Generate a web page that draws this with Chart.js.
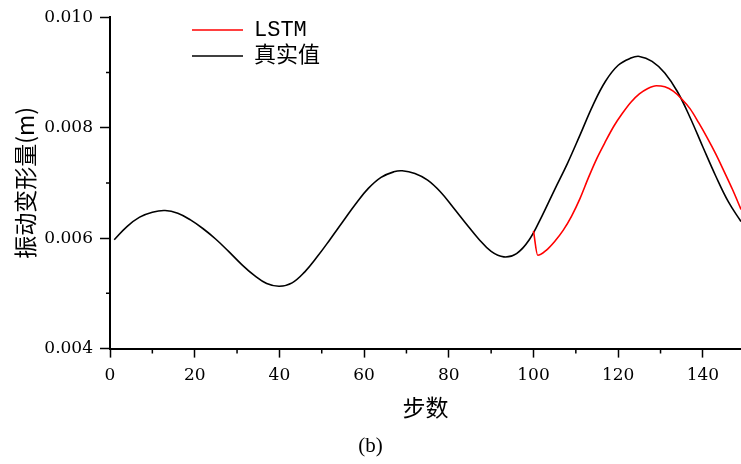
<!DOCTYPE html>
<html>
<head>
<meta charset="utf-8">
<script src="https://cdn.jsdelivr.net/npm/chart.js@4/dist/chart.umd.min.js"></script>
<style>
  html, body { margin: 0; padding: 0; background: #fff; }
  #wrap { width: 741px; height: 464px; position: relative; }
</style>
</head>
<body>
<div id="wrap"><canvas id="c" width="741" height="464"></canvas></div>
<script>
// ---- data ----
const seriesNames = ['LSTM', '真实值'];
const trueSteps = [1, 4, 7, 10, 13, 16, 19, 22, 25, 28, 31, 34, 37, 40, 43, 46, 49, 52, 55, 58, 61, 64, 67, 69, 72, 75, 78, 81, 84, 87, 90, 93, 96, 99, 102, 105, 108, 111, 114, 117, 120, 123, 125, 128, 131, 134, 137, 140, 143, 146, 149];
const trueValues = [0.00597, 0.00621, 0.00638, 0.00647, 0.00650, 0.00645, 0.00633, 0.00617, 0.00598, 0.00576, 0.00553, 0.00533, 0.00518, 0.00513, 0.00519, 0.00539, 0.00567, 0.00598, 0.00630, 0.00662, 0.00690, 0.00710, 0.00720, 0.00722, 0.00717, 0.00705, 0.00684, 0.00656, 0.00627, 0.00599, 0.00576, 0.00566, 0.00572, 0.00597, 0.00640, 0.00688, 0.00735, 0.00787, 0.00840, 0.00884, 0.00913, 0.00926, 0.00929, 0.00920, 0.00899, 0.00865, 0.00818, 0.00765, 0.00713, 0.00666, 0.00630];
const lstmSteps = [100, 101, 103, 105, 107, 109, 111, 113, 115, 117, 119, 121, 123, 125, 127, 129, 131, 133, 135, 137, 139, 141, 143, 145, 147, 149];
const lstmValues = [0.00613, 0.00569, 0.00578, 0.00594, 0.00614, 0.00640, 0.00672, 0.00710, 0.00745, 0.00775, 0.00803, 0.00826, 0.00846, 0.00861, 0.00871, 0.00876, 0.00874, 0.00866, 0.00852, 0.00834, 0.00809, 0.00782, 0.00753, 0.00721, 0.00688, 0.00652];
const xMajorTicks = [0, 20, 40, 60, 80, 100, 120, 140];
const xMinorTicks = [10, 30, 50, 70, 90, 110, 130];
const yMajorTicks = [0.004, 0.006, 0.008, 0.010];
const yMinorTicks = [0.005, 0.007, 0.009];
const xTitle = '步数';
const yTitle = '振动变形量(m)';
const panelLabel = '(b)';

const toPoints = (xs, ys) => xs.map((x, i) => ({ x: x, y: ys[i] }));

const minorTickPlugin = {
  id: 'minorTicks',
  afterDraw(chart) {
    const ctx = chart.ctx;
    const xs = chart.scales.x, ys = chart.scales.y;
    const area = chart.chartArea;
    ctx.save();
    ctx.strokeStyle = '#000';
    ctx.lineWidth = 1.5;
    ctx.beginPath();
    xMinorTicks.forEach(v => {
      const p = xs.getPixelForValue(v);
      ctx.moveTo(p, area.bottom);
      ctx.lineTo(p, area.bottom + 5);
    });
    yMinorTicks.forEach(v => {
      const p = ys.getPixelForValue(v);
      ctx.moveTo(area.left - 4, p);
      ctx.lineTo(area.left, p);
    });
    ctx.stroke();
    ctx.restore();
  }
};

const legendShiftPlugin = {
  id: 'legendShift',
  afterLayout(chart) {
    const lg = chart.legend;
    if (!lg) return;
    lg.left += 78; lg.right += 78;
    lg.top += 15; lg.bottom += 15;
  }
};

new Chart(document.getElementById('c'), {
  type: 'line',
  data: {
    datasets: [
      {
        label: seriesNames[0],
        data: toPoints(lstmSteps, lstmValues),
        borderColor: '#ff0000',
        backgroundColor: '#ff0000',
        borderWidth: 1.6,
        pointRadius: 0,
        cubicInterpolationMode: 'monotone',
        fill: false
      },
      {
        label: seriesNames[1],
        data: toPoints(trueSteps, trueValues),
        borderColor: '#000000',
        backgroundColor: '#000000',
        borderWidth: 1.6,
        pointRadius: 0,
        tension: 0.4,
        fill: false
      }
    ]
  },
  options: {
    responsive: false,
    animation: false,
    devicePixelRatio: 1,
    layout: { padding: { left: 0, right: 0, top: 16, bottom: 0 } },
    scales: {
      x: {
        type: 'linear',
        min: 0,
        max: 149,
        afterBuildTicks: s => { s.ticks = xMajorTicks.map(v => ({ value: v })); },
        afterFit: s => { s.height = 85.2; },
        ticks: {
          includeBounds: false,
          color: '#000',
          padding: 8,
          maxRotation: 0,
          autoSkip: false,
          font: { family: 'DejaVu Serif', size: 17 },
          callback: v => String(v)
        },
        grid: { drawOnChartArea: false, drawTicks: true, tickLength: 9, tickWidth: 1.5, tickColor: '#000' },
        border: { display: true, color: '#000', width: 2 },
        title: {
          display: true,
          text: xTitle,
          color: '#000',
          font: { family: 'Noto Sans CJK SC', size: 23, lineHeight: 1.2 },
          padding: { top: 0, bottom: 13 }
        }
      },
      y: {
        type: 'linear',
        min: 0.004,
        max: 0.010,
        afterBuildTicks: s => { s.ticks = yMajorTicks.map(v => ({ value: v })); },
        afterFit: s => { s.width = 110; },
        ticks: {
          includeBounds: false,
          color: '#000',
          padding: 7,
          autoSkip: false,
          font: { family: 'DejaVu Serif', size: 17 },
          callback: v => Number(v).toFixed(3)
        },
        grid: { drawOnChartArea: false, drawTicks: true, tickLength: 10, tickWidth: 1.5, tickColor: '#000' },
        border: { display: true, color: '#000', width: 2 },
        title: {
          display: true,
          text: yTitle,
          color: '#000',
          font: { family: 'Noto Sans CJK SC', size: 23, lineHeight: 1.2 },
          padding: { top: 11, bottom: 0 }
        }
      }
    },
    plugins: {
      legend: {
        display: true,
        position: 'chartArea',
        align: 'start',
        labels: {
          usePointStyle: true,
          pointStyle: 'line',
          pointStyleWidth: 51,
          padding: 4,
          color: '#000',
          font: { family: "'Liberation Mono', 'Noto Sans CJK SC'", size: 22 }
        }
      },
      title: {
        display: true,
        position: 'bottom',
        text: panelLabel,
        color: '#000',
        font: { family: 'Liberation Serif', size: 21, weight: 'normal', lineHeight: 1.2 },
        padding: { top: 0, bottom: 5 }
      },
      tooltip: { enabled: false }
    }
  },
  plugins: [minorTickPlugin, legendShiftPlugin]
});
</script>
</body>
</html>
